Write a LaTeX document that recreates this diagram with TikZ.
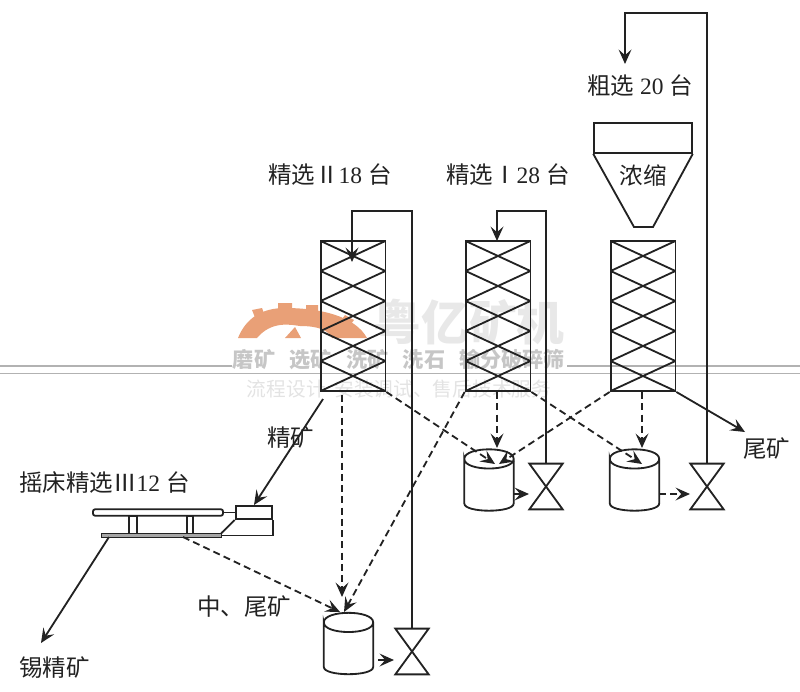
\documentclass[tikz,border=0pt]{standalone}
\usepackage{fontspec}
\setmainfont{Liberation Serif}
\newfontfamily\cjk{Noto Sans CJK SC}
\usepackage{xcolor}
\usetikzlibrary{positioning,arrows.meta}
\definecolor{gearc}{HTML}{E9A077}
\definecolor{inkc}{HTML}{222222}
\newcommand{\tankbody}[1]{%
  \draw[ln] ([yshift=-0.24cm]#1.north west) .. controls +(0,0.32cm) and +(0,0.32cm) .. ([yshift=-0.24cm]#1.north east)
    .. controls +(0,-0.32cm) and +(0,-0.32cm) .. ([yshift=-0.24cm]#1.north west) -- ([yshift=0.18cm]#1.south west)
    .. controls +(0,-0.24cm) and +(0,-0.24cm) .. ([yshift=0.18cm]#1.south east) -- ([yshift=-0.24cm]#1.north east);}

\begin{document}
\begin{tikzpicture}[x=0.025cm,y=-0.025cm,
  ln/.style={line width=1.3pt,inkc},
  arr/.style={ln,-{Stealth[length=3.6mm,width=3.2mm,inset=1.4mm]}},
  dsh/.style={arr,dash pattern=on 5pt off 3pt},
  lbl/.style={font=\fontsize{16.7}{18}\selectfont,inkc,inner sep=0pt},
  tower/.style={draw=inkc,line width=1.3pt,minimum width=1.62cm,minimum height=3.75cm,inner sep=0pt,
    path picture={\foreach \i in {0,...,4}{
      \draw[ln] ([yshift=-\i*0.75cm]path picture bounding box.north west) -- ++(1.62cm,-0.75cm);
      \draw[ln] ([yshift=-\i*0.75cm]path picture bounding box.north east) -- ++(-1.62cm,-0.75cm);}}},
  tank/.style={minimum width=1.22cm,minimum height=1.52cm,inner sep=0pt},
  valve/.style={minimum width=0.82cm,minimum height=1.13cm,inner sep=0pt},
  wm/.style={inner sep=0pt,gray!30,font=\cjk}]
\useasboundingbox (0,0) rectangle (800,691);
% watermark
\fill[gearc] (238,338) .. controls (246,318) and (262,308) .. (285,308) .. controls (320,308) and (355,316) .. (367,338)
  -- (332,338) .. controls (328,330) and (318,326) .. (300,326) .. controls (292,325) and (272,320) .. (257,338) -- cycle;
\fill[gearc] (285,338) -- (295,327) -- (301,338) -- cycle;
\fill[gearc] (252,310) -- (262,308) -- (265,316) -- (256,320) -- cycle (278,303) rectangle (292,312)
  (306,305) rectangle (318,314) (345,315) -- (354,320) -- (348,328) -- (340,322) -- cycle;
\draw[gray!60,line width=1.4pt] (0,366) -- (232,366) (567,366) -- (800,366) (0,373.5) -- (800,373.5);
\node[wm,font=\cjk\bfseries\fontsize{34}{36}\selectfont,gray!18] (wmname) at (469,322) {粤亿矿机};
\node[wm,font=\cjk\bfseries\fontsize{15}{16}\selectfont,gray!45] (wmtag) at (399,360) {磨矿\ \ \ 选矿\ \ \ 洗矿\ \ \ 洗石\ \ \ 输分破碎筛};
\node[wm,font=\cjk\fontsize{14}{15}\selectfont,gray!22] (wmsrv) at (399,389) {流程设计\ \ 安装调试、售后技术服务};
% towers
\node[tower] (tw1) at (353,316) {};
\node[tower] (tw2) at (498,316) {};
\node[tower] (tw3) at (643,316) {};
% hopper
\node[draw=inkc,line width=1.3pt,minimum width=2.44cm,minimum height=0.75cm,inner sep=0pt] (hop) at (643,138) {};
\coordinate (hopl) at (634,227);
\coordinate (hopr) at (653,227);
\draw[ln] (hop.south west) -- (hopl) -- (hopr) -- (hop.south east);
\node[lbl] (nong) at (643,176) {\cjk 浓缩};
% tanks and valves
\node[tank] (tk1) at (348.5,643.5) {};
\node[tank] (tk2) at (489,480) {};
\node[tank] (tk3) at (634.5,480) {};
\tankbody{tk1}
\tankbody{tk2}
\tankbody{tk3}
\node[valve] (v1) at (412,651.5) {};
\node[valve] (v2) at (546,486.5) {};
\node[valve] (v3) at (707,486.5) {};
\draw[ln] (v1.north west) -- (v1.north east) -- (v1.south west) -- (v1.south east) -- cycle;
\draw[ln] (v2.north west) -- (v2.north east) -- (v2.south west) -- (v2.south east) -- cycle;
\draw[ln] (v3.north west) -- (v3.north east) -- (v3.south west) -- (v3.south east) -- cycle;
% table
\node[draw=inkc,line width=1.3pt,rounded corners=1.5pt,minimum width=3.25cm,minimum height=0.16cm,inner sep=0pt] (deck) at (158,512.5) {};
\node[draw=inkc,line width=1.3pt,minimum width=0.92cm,minimum height=0.33cm,inner sep=0pt] (head) at (254,512.5) {};
\node[draw=inkc,line width=1.3pt,minimum width=0.2cm,minimum height=0.48cm,inner sep=0pt] (lega) at (133,525.5) {};
\node[draw=inkc,line width=1.3pt,minimum width=0.17cm,minimum height=0.48cm,inner sep=0pt] (legb) at (190,525.5) {};
\node[draw=inkc,fill=gray!70,line width=.5pt,minimum width=3cm,minimum height=0.1cm,inner sep=0pt] (base) at (161,535.5) {};
\draw[ln] (deck.east) -- (head.west);
\draw[ln] (head.south west) -- (base.north east);
\draw[ln] (base.east) -| (head.south east);
% labels
\node[lbl,anchor=west] (l2) at (268,175) {{\cjk 精选Ⅱ}18 {\cjk 台}};
\node[lbl,anchor=west] (l1) at (446,175) {{\cjk 精选Ⅰ}28 {\cjk 台}};
\node[lbl,anchor=west] (l0) at (587,86) {{\cjk 粗选} 20 {\cjk 台}};
\node[lbl,anchor=west] (l3) at (19,483) {{\cjk 摇床精选Ⅲ}12 {\cjk 台}};
\node[lbl,anchor=west] (lc) at (267,437) {\cjk 精矿};
\node[lbl,anchor=west] (lt) at (743,448) {\cjk 尾矿};
\node[lbl,anchor=west] (lm) at (197,606) {\cjk 中、尾矿};
\node[lbl,anchor=west] (lx) at (19,668) {\cjk 锡精矿};
% free ends
\coordinate (top3a) at (707,13);
\coordinate (fd3) at (625,64);
\coordinate (top1a) at (412,211);
\coordinate (fd1) at (352,262);
\coordinate (top2a) at (546,211);
\coordinate (fd2) at (497,241);
\coordinate (tl3) at (745,432);
\coordinate (s1) at (323,399);
\coordinate (s2) at (109,537);
\coordinate (e2) at (41,643);
\coordinate (s3) at (183,537);
\coordinate (b1) at (342,395);
\coordinate (i1) at (342,597);
\coordinate (i1b) at (344,612);
\coordinate (i1c) at (340,612);
\coordinate (i2a) at (495,464);
\coordinate (i2b) at (499,464);
\coordinate (i2c) at (497,448);
\coordinate (b2) at (497,392);
\coordinate (i3a) at (642,464);
\coordinate (i3c) at (642,448);
\coordinate (b3) at (642,392);
\coordinate (s4) at (378,660);
\coordinate (e4) at (394,660);
\coordinate (s5) at (513,494);
\coordinate (e5) at (529,494);
\coordinate (s6) at (659,494);
\coordinate (e6) at (690,494);
% solid lines
\draw[arr] (v3.north) -- (top3a) -| (fd3);
\draw[arr] (v1.north) -- (top1a) -| (fd1);
\draw[arr] (v2.north) -- (top2a) -| (fd2);
\draw[arr] (tw3.south east) -- (tl3);
\draw[arr] (s1) -- (head.north);
\draw[arr] (s2) -- (e2);
% dashed lines
\draw[dsh] (b1) -- (i1);
\draw[dsh] (tw2.south west) -- (i1b);
\draw[dsh] (s3) -- (i1c);
\draw[dsh] (tw1.south east) -- (i2a);
\draw[dsh] (b2) -- (i2c);
\draw[dsh] (tw3.south west) -- (i2b);
\draw[dsh] (tw2.south east) -- (i3a);
\draw[dsh] (b3) -- (i3c);
\draw[dsh] (s4) -- (e4);
\draw[dsh] (s5) -- (e5);
\draw[dsh] (s6) -- (e6);
\end{tikzpicture}
\end{document}
